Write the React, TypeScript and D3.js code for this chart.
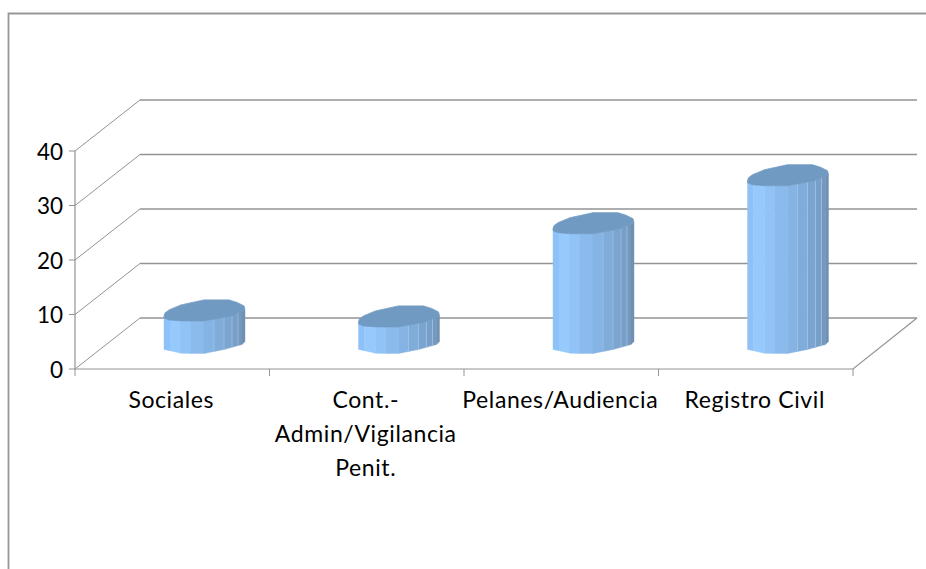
import React from "react";
import * as d3 from "d3";

const categories = ["Sociales", "Cont.-Admin/Vigilancia Penit.", "Pelanes/Audiencia", "Registro Civil"];
const values = [5.8, 4.7, 21.8, 30.6];
const yTicks = [0, 10, 20, 30, 40];
const categoryLines = [["Sociales"], ["Cont.-", "Admin/Vigilancia", "Penit."], ["Pelanes/Audiencia"], ["Registro Civil"]];

const W = 926, H = 569;
const DX = 65, DY = -51;
const x = d3.scaleBand<string>().domain(categories).range([75, 853]);
const y = d3.scaleLinear().domain([0, 40]).range([369, 151]);
const gridColor = "#939393";
const font = "Lato, 'Noto Sans', sans-serif";

// cross-section of the column, relative to the front-left corner of the band's column
const frontEdge: [number, number][] = [[0, 0], [5, 2], [17, 3], [40, 3], [67, -2], [81, -8]];
const backEdge: [number, number][] = [[80, -12], [73, -15.5], [65, -18], [40, -18], [17, -13], [5, -8], [1, -5], [0, -2]];
const bottomEdge: [number, number][] = [[0, 0], [10, 2], [18, 4], [40, 4], [60, 0], [78, -5], [81, -8]];
const facetStops = [0, 6, 17, 27, 40, 50, 60, 68, 74, 78, 81];
const facetColors = ["#8dc1f8", "#96c9fc", "#91c3f6", "#8bbbed", "#85b3e3", "#80acd9", "#7ba5d0", "#789fc8", "#7598be", "#7090b4"];

const line = d3.line<[number, number]>().x(d => d[0]).y(d => d[1]);
const lerp = (pts: [number, number][], px: number) => {
  for (let i = 1; i < pts.length; i++) {
    if (px <= pts[i][0]) {
      const t = (px - pts[i - 1][0]) / (pts[i][0] - pts[i - 1][0] || 1);
      return pts[i - 1][1] + t * (pts[i][1] - pts[i - 1][1]);
    }
  }
  return pts[pts.length - 1][1];
};

function Column({ cat, value }: { cat: string; value: number }) {
  const x0 = (x(cat) as number) + 89;
  const base = 349.5;
  const top = base - (y(0) - y(value));
  const facets = facetColors.map((c, i) => {
    const a = facetStops[i], b = facetStops[i + 1];
    const pts: [number, number][] = [
      [x0 + a, top + lerp(frontEdge, a)],
      [x0 + b, top + lerp(frontEdge, b)],
      [x0 + b, base + lerp(bottomEdge, b)],
      [x0 + a, base + lerp(bottomEdge, a)],
    ];
    return <path key={i} d={line(pts) + "Z"} fill={c} stroke={c} strokeWidth={0.4} />;
  });
  const seps = [50, 60, 68, 74].map(s => (
    <line key={s} x1={x0 + s} x2={x0 + s} y1={top + lerp(frontEdge, s)} y2={base + lerp(bottomEdge, s)} stroke="#a3c5e6" strokeWidth={0.7} />
  ));
  const cap = [...frontEdge, ...backEdge].map(p => [x0 + p[0], top + p[1]] as [number, number]);
  return (
    <g>
      {facets}
      {seps}
      <path d={line(cap) + "Z"} fill="#719ac3" stroke="#719ac3" strokeWidth={0.8} strokeLinejoin="round" />
    </g>
  );
}

export default function App() {
  const band = x.bandwidth();
  return (
    <svg width={W} height={H} style={{ position: "absolute", left: 0, top: 0, background: "#fff" }}>
      <path d={`M8.5 569V13.5H926`} fill="none" stroke="#979797" strokeWidth={1.8} />
      {yTicks.map(t => (
        <g key={t}>
          <path d={`M69 ${y(t)}H75L${75 + DX} ${y(t) + DY}`} fill="none" stroke={gridColor} strokeWidth={1} />
          <line x1={75 + DX} x2={917} y1={y(t) + DY} y2={y(t) + DY} stroke={gridColor} strokeWidth={1.4} />
          <text x={63} y={y(t) + 8.5} textAnchor="end" fontFamily={font} fontSize={22.5} fill="#000">{t}</text>
        </g>
      ))}
      <path d={`M75 ${y(40)}V369H853L917 318`} fill="none" stroke={gridColor} strokeWidth={1.2} />
      {categories.map(c => (
        <line key={c} x1={(x(c) as number) + band} x2={(x(c) as number) + band} y1={369} y2={376} stroke={gridColor} />
      ))}
      <line x1={75} x2={75} y1={369} y2={376} stroke={gridColor} />
      {categories.map((c, i) => <Column key={c} cat={c} value={values[i]} />)}
      {categories.map((c, i) => (
        <text key={c} textAnchor="middle" fontFamily={font} fontSize={23} fill="#000" letterSpacing={0.6}>
          {categoryLines[i].map((l, j) => (
            <tspan key={j} x={(x(c) as number) + band / 2 - 1} y={408 + j * 34}>{l}</tspan>
          ))}
        </text>
      ))}
    </svg>
  );
}
